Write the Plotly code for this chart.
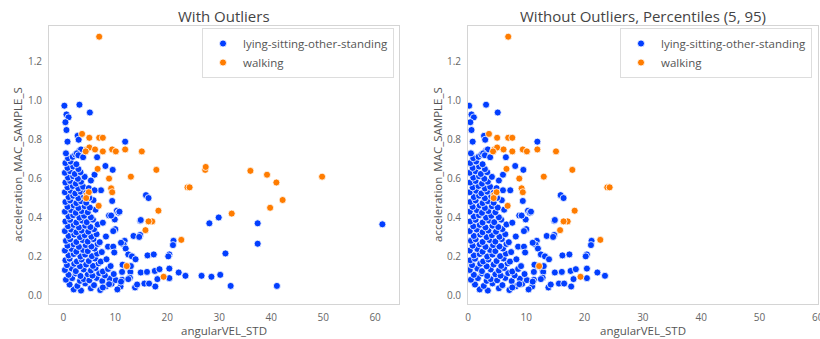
import plotly.graph_objects as go

# ---- data -------------------------------------------------------------
LABEL_REST = "lying-sitting-other-standing"
LABEL_WALK = "walking"
X_NAME = "angularVEL_STD"
Y_NAME = "acceleration_MAC_SAMPLE_S"

# dense core of the non-walking class
core_x = [
    2.0, 3.4, 5.3, 7.1,
    1.2, 2.7, 4.2, 5.9, 8.2, 9.3,
    0.5, 1.7, 3.2, 3.9, 5.0, 6.4, 7.5, 8.9, 10.1,
    1.0, 2.4, 3.3, 4.7, 5.6, 6.9, 8.0, 9.7,
    0.3, 1.6, 2.4, 3.9, 5.3, 6.2, 7.6, 8.6,
    0.7, 2.1, 3.2, 4.4, 5.7, 6.8, 9.1,
    0.4, 1.2, 2.6, 3.5, 4.9, 6.1, 7.2, 8.3,
    1.0, 2.0, 3.3, 4.2, 5.5, 6.5,
    0.3, 1.6, 2.5, 3.8, 4.7, 6.0, 7.4,
    0.8, 2.0, 3.0, 4.3, 5.4, 6.6, 8.6,
    0.5, 1.3, 2.5, 3.7, 4.7, 5.8, 7.0,
    1.0, 2.1, 3.2, 4.1, 5.4, 6.4, 8.2,
    0.3, 1.5, 2.5, 3.5, 4.8, 5.9,
    0.9, 2.0, 3.0, 4.2, 5.2, 6.6,
    0.4, 1.3, 2.5, 3.6, 4.5, 5.7, 7.6,
    1.0, 1.9, 3.1, 4.0, 5.3,
    0.3, 1.5, 2.4, 3.5, 4.7, 6.2,
    0.8, 2.0, 2.9, 4.1, 5.1,
    0.4, 1.3, 2.5, 3.4, 4.4, 5.8,
    1.0, 1.9, 2.9, 4.0, 5.0,
    0.3, 1.4, 2.3, 3.3, 4.4,
    0.8, 1.8, 2.9, 3.8, 4.9,
    0.4, 1.3, 2.4, 3.4,
    0.9, 1.9, 2.8, 4.1,
    0.3, 1.3, 2.2, 3.3,
    0.8, 1.9, 2.9,
    0.4, 1.4, 2.5,
    0.9, 1.8,
    0.5, 2.3,
]
core_y = [
    0.030, 0.024, 0.036, 0.027,
    0.055, 0.048, 0.061, 0.052, 0.046, 0.059,
    0.080, 0.088, 0.074, 0.083, 0.077, 0.089, 0.073, 0.085, 0.078,
    0.105, 0.112, 0.099, 0.108, 0.101, 0.114, 0.102, 0.109,
    0.130, 0.138, 0.124, 0.133, 0.127, 0.140, 0.122, 0.135,
    0.155, 0.162, 0.149, 0.158, 0.151, 0.164, 0.150,
    0.180, 0.188, 0.174, 0.184, 0.176, 0.189, 0.173, 0.185,
    0.205, 0.212, 0.199, 0.209, 0.201, 0.214,
    0.230, 0.238, 0.224, 0.233, 0.227, 0.240, 0.222,
    0.255, 0.262, 0.249, 0.258, 0.251, 0.264, 0.250,
    0.280, 0.288, 0.274, 0.284, 0.276, 0.289, 0.273,
    0.305, 0.312, 0.299, 0.309, 0.301, 0.314, 0.302,
    0.330, 0.338, 0.324, 0.333, 0.327, 0.340,
    0.355, 0.362, 0.349, 0.358, 0.351, 0.364,
    0.380, 0.388, 0.374, 0.384, 0.376, 0.389, 0.373,
    0.405, 0.412, 0.399, 0.409, 0.401,
    0.430, 0.438, 0.424, 0.433, 0.427, 0.440,
    0.455, 0.462, 0.449, 0.458, 0.451,
    0.480, 0.488, 0.474, 0.484, 0.476, 0.489,
    0.505, 0.512, 0.499, 0.509, 0.501,
    0.530, 0.538, 0.524, 0.533, 0.527,
    0.555, 0.562, 0.549, 0.558, 0.551,
    0.580, 0.588, 0.574, 0.584,
    0.605, 0.612, 0.599, 0.609,
    0.630, 0.638, 0.624, 0.633,
    0.655, 0.662, 0.649,
    0.680, 0.688, 0.674,
    0.705, 0.712,
    0.730, 0.724,
]

# scattered non-walking samples away from the core
spread_x = [
    0.2, 3.1, 5.1, 0.6, 1.0, 0.4, 0.6, 0.8, 2.75, 2.95, 11.9, 3.1, 3.4,
    2.6, 6.5, 8.1, 9.5, 6.0, 2.9, 3.8, 5.3, 7.25, 6.0, 15.9, 16.4,
    8.8, 9.4, 10.3, 10.6, 9.9, 10.0, 9.6, 11.8, 11.6, 9.6, 9.8, 12.0,
    12.5, 13.2, 13.9, 14.8, 13.5, 14.8, 10.8, 9.2, 14.9, 14.6, 11.1,
    11.7, 11.3, 12.7, 12.9, 12.8, 11.3, 11.0, 13.8, 14.2, 15.6, 17.7,
    14.9, 16.1, 17.6, 18.5, 20.4, 22.2, 23.5, 26.6, 28.5, 30.2, 32.2,
    41.1, 16.2, 17.4, 20.4, 20.2, 21.2, 21.1, 31.2, 28.1, 29.9, 37.4,
    37.4, 61.4, 11.4, 13.0, 20.4, 18.1, 16.5, 12.5, 11.1, 10.4, 8.8, 7.6,
]
spread_y = [
    0.975, 0.980, 0.940, 0.930, 0.915, 0.890, 0.850, 0.790, 0.820, 0.800, 0.790, 0.745, 0.750,
    0.730, 0.710, 0.665, 0.645, 0.620, 0.720, 0.710, 0.590, 0.540, 0.540, 0.515, 0.500,
    0.410, 0.485, 0.435, 0.425, 0.390, 0.340, 0.330, 0.280, 0.260, 0.250, 0.220, 0.240,
    0.210, 0.200, 0.185, 0.383, 0.305, 0.310, 0.430, 0.410, 0.387, 0.300, 0.270,
    0.150, 0.120, 0.137, 0.120, 0.090, 0.080, 0.045, 0.040, 0.055, 0.060, 0.045,
    0.117, 0.120, 0.125, 0.134, 0.137, 0.117, 0.100, 0.100, 0.095, 0.105, 0.048,
    0.048, 0.205, 0.210, 0.210, 0.200, 0.280, 0.258, 0.215, 0.370, 0.400, 0.370,
    0.265, 0.365, 0.157, 0.150, 0.088, 0.083, 0.060, 0.083, 0.070, 0.030, 0.057, 0.040,
]

# walking class
walk_x = [
    6.9, 3.6, 5.0, 6.9, 7.6, 4.5, 5.0, 4.3, 6.1, 7.6, 9.4, 10.1, 11.9,
    15.1, 6.6, 8.8, 13.0, 17.9, 23.9, 9.2, 9.4, 4.5, 27.3, 36.0, 39.2,
    49.8, 41.0, 24.3, 42.2, 39.8, 6.8, 18.3, 32.4, 17.1, 16.4, 15.8,
    22.7, 19.3, 12.2, 4.9, 4.4, 27.4,
]
walk_y = [
    1.330, 0.830, 0.810, 0.810, 0.810, 0.750, 0.760, 0.740, 0.750, 0.740, 0.750, 0.740, 0.750,
    0.740, 0.650, 0.600, 0.610, 0.645, 0.555, 0.550, 0.530, 0.515, 0.645, 0.640, 0.620,
    0.610, 0.580, 0.555, 0.490, 0.450, 0.460, 0.435, 0.420, 0.380, 0.380, 0.335,
    0.285, 0.095, 0.150, 0.530, 0.500, 0.660,
]

# upper cut applied to angularVEL_STD for the filtered view
X_UPPER_CUT = 24.5

X_TICKS = [0, 10, 20, 30, 40, 50, 60]
Y_TICKS = [0.0, 0.2, 0.4, 0.6, 0.8, 1.0, 1.2]

TITLE_LEFT = "With Outliers"
TITLE_RIGHT = "Without Outliers, Percentiles (5, 95)"

# ---- styling ----------------------------------------------------------
BLUE = "#023eff"
ORANGE = "#ff7c00"
FONT = "Open Sans"
W, H = 820, 339


def px_x(p):
    return p / W


def px_y(p):
    return 1 - p / H


rest_x = core_x + spread_x
rest_y = core_y + spread_y

rest_x_f = [x for x in rest_x if x <= X_UPPER_CUT]
rest_y_f = [y for x, y in zip(rest_x, rest_y) if x <= X_UPPER_CUT]
walk_x_f = [x for x in walk_x if x <= X_UPPER_CUT]
walk_y_f = [y for x, y in zip(walk_x, walk_y) if x <= X_UPPER_CUT]

marker_common = dict(size=7, line=dict(color="white", width=0.8))

fig = go.Figure()
fig.add_trace(go.Scatter(x=rest_x, y=rest_y, mode="markers", name=LABEL_REST,
                         marker=dict(color=BLUE, **marker_common),
                         xaxis="x", yaxis="y", legend="legend"))
fig.add_trace(go.Scatter(x=walk_x, y=walk_y, mode="markers", name=LABEL_WALK,
                         marker=dict(color=ORANGE, **marker_common),
                         xaxis="x", yaxis="y", legend="legend"))
fig.add_trace(go.Scatter(x=rest_x_f, y=rest_y_f, mode="markers", name=LABEL_REST,
                         marker=dict(color=BLUE, **marker_common),
                         xaxis="x2", yaxis="y2", legend="legend2"))
fig.add_trace(go.Scatter(x=walk_x_f, y=walk_y_f, mode="markers", name=LABEL_WALK,
                         marker=dict(color=ORANGE, **marker_common),
                         xaxis="x2", yaxis="y2", legend="legend2"))

axis_common = dict(
    showgrid=False, zeroline=False, showline=True, mirror=True,
    linecolor="#d4d4d4", linewidth=1,
    ticks="outside", ticklen=4, tickcolor="rgba(0,0,0,0)",
    tickfont=dict(family=FONT, size=10, color="#666666"),
    ticklabeloverflow="allow", automargin=False,
)

y_dom = [px_y(304), px_y(26)]
yrange = [-0.045, 1.385]

legend_common = dict(
    bgcolor="rgba(255,255,255,0.85)", bordercolor="#dddddd", borderwidth=1,
    font=dict(family=FONT, size=11.5, color="#555555"),
    xanchor="right", yanchor="top", tracegroupgap=0,
)

fig.update_layout(
    width=W, height=H,
    margin=dict(l=0, r=0, t=0, b=0, autoexpand=False),
    paper_bgcolor="white", plot_bgcolor="white",
    font=dict(family=FONT, color="#555555"),
    xaxis=dict(domain=[px_x(49), px_x(399)], range=[-2.76, 64.6],
               tickvals=X_TICKS, anchor="y", **axis_common),
    yaxis=dict(domain=y_dom, range=yrange, tickvals=Y_TICKS, tickformat=".1f",
               anchor="x", **axis_common),
    xaxis2=dict(domain=[px_x(468), px_x(818)], range=[0, 60.05],
                tickvals=X_TICKS, anchor="y2", **axis_common),
    yaxis2=dict(domain=y_dom, range=yrange, tickvals=Y_TICKS, tickformat=".1f",
                anchor="x2", **axis_common),
    legend=dict(x=px_x(394), y=px_y(28), **legend_common),
    legend2=dict(x=px_x(812), y=px_y(28), **legend_common),
    showlegend=True,
)

annotations = [
    dict(text=TITLE_LEFT, x=px_x(224), y=px_y(16), font=dict(size=15, color="#444444")),
    dict(text=TITLE_RIGHT, x=px_x(643), y=px_y(16), font=dict(size=15, color="#444444")),
    dict(text=X_NAME, x=px_x(224), y=px_y(330), font=dict(size=11.5, color="#555555")),
    dict(text=X_NAME, x=px_x(643), y=px_y(330), font=dict(size=11.5, color="#555555")),
    dict(text=Y_NAME, x=px_x(17), y=px_y(165), textangle=-90,
         font=dict(size=11.5, color="#555555")),
    dict(text=Y_NAME, x=px_x(437), y=px_y(165), textangle=-90,
         font=dict(size=11.5, color="#555555")),
]
for a in annotations:
    a.update(xref="paper", yref="paper", showarrow=False,
             xanchor="center", yanchor="middle")
    a["font"]["family"] = FONT
fig.update_layout(annotations=annotations)

fig.write_html("out.html")
